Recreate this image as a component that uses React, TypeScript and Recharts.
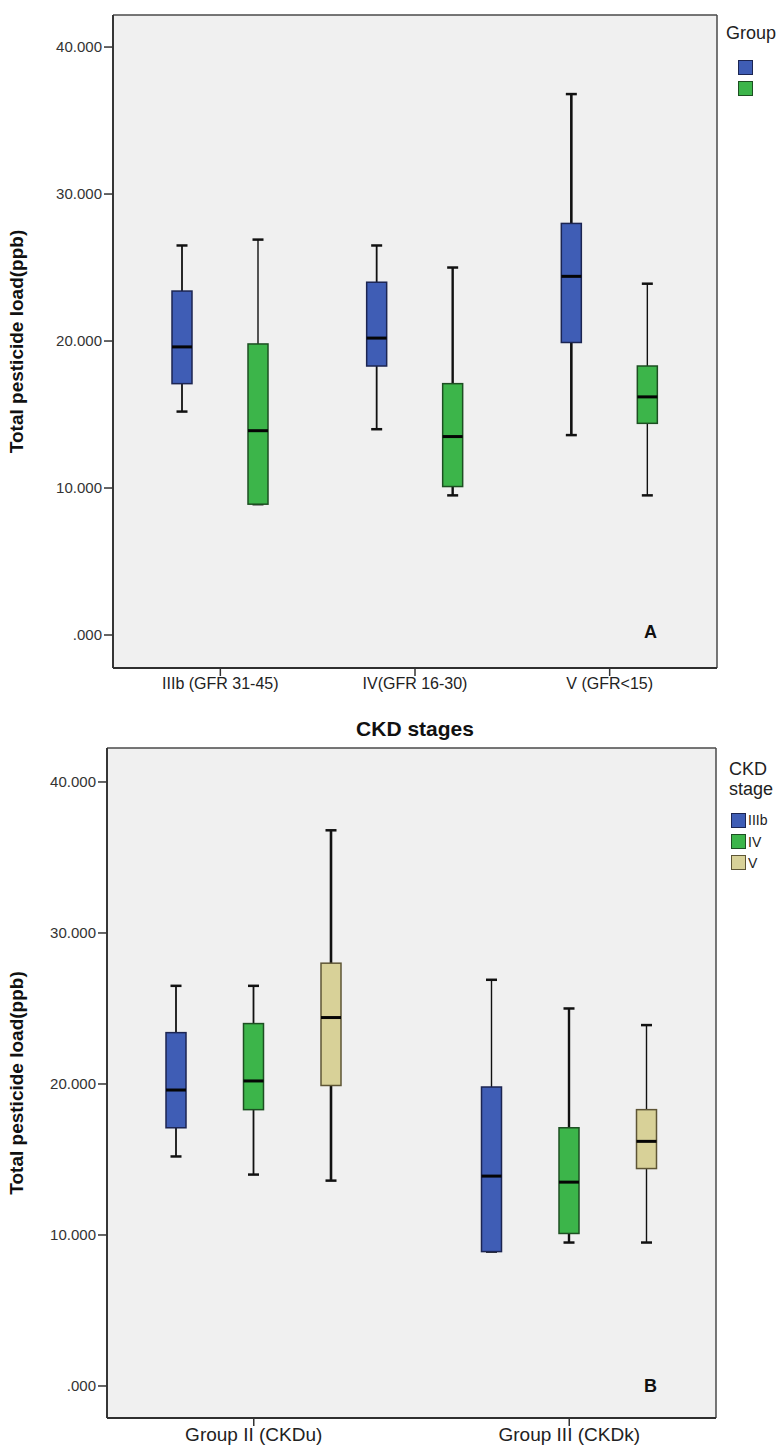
import { BarChart, Bar, XAxis, YAxis, CartesianGrid } from 'recharts'

const stages = ['IIIb (GFR 31-45)', 'IV(GFR 16-30)', 'V (GFR<15)']
const stageShort = ['IIIb', 'IV', 'V']
const groups = ['Group II (CKDu)', 'Group III (CKDk)']

// five-number summaries (ppb), one value per CKD stage
const ckduMin = [15.2, 14.0, 13.6]
const ckduQ1 = [17.1, 18.3, 19.9]
const ckduMedian = [19.6, 20.2, 24.4]
const ckduQ3 = [23.4, 24.0, 28.0]
const ckduMax = [26.5, 26.5, 36.8]

const ckdkMin = [8.9, 9.5, 9.5]
const ckdkQ1 = [8.9, 10.1, 14.4]
const ckdkMedian = [13.9, 13.5, 16.2]
const ckdkQ3 = [19.8, 17.1, 18.3]
const ckdkMax = [26.9, 25.0, 23.9]

const yTicks = [0, 10, 20, 30, 40]

const BLUE = { fill: '#3f5db5', edge: '#1c2552' }
const GREEN = { fill: '#3cb54a', edge: '#1d4f22' }
const TAN = { fill: '#d8d198', edge: '#5e5535' }
const stageColors = [BLUE, GREEN, TAN]
const groupColors = [BLUE, GREEN]
// SPSS drew some whiskers heavier than others
const ckduWhisker = [1.8, 1.8, 2.6]
const ckdkWhisker = [1.4, 2.4, 1.4]

type Box = { min: number; q1: number; med: number; q3: number; max: number }

const ckduBoxes: Box[] = stages.map((_, i) => ({
  min: ckduMin[i], q1: ckduQ1[i], med: ckduMedian[i], q3: ckduQ3[i], max: ckduMax[i],
}))
const ckdkBoxes: Box[] = stages.map((_, i) => ({
  min: ckdkMin[i], q1: ckdkQ1[i], med: ckdkMedian[i], q3: ckdkQ3[i], max: ckdkMax[i],
}))

const byStage = stages.map((name, i) => ({ name, g0: ckduBoxes[i], g1: ckdkBoxes[i] }))
const byGroup = groups.map((name, gi) => {
  const src = gi === 0 ? ckduBoxes : ckdkBoxes
  return { name, s0: src[0], s1: src[1], s2: src[2] }
})
const whiskerByGroup = [ckduWhisker, ckdkWhisker]

const FONT = '"Liberation Sans", Arial, sans-serif'
const fmt = (v: number) => (v === 0 ? '.000' : v.toFixed(3))
const FRAME_MAIN = { stroke: '#2f2f2f', strokeWidth: 1.8 }
const TICK_LINE = { stroke: '#333', strokeWidth: 1.5 }

// grid lines only on the plot edges, so the grid doubles as the frame
const edgeRows = ({ offset }: any) => [offset.top, offset.top + offset.height]
const edgeCols = ({ offset }: any) => [offset.left, offset.left + offset.width]

function BoxShape(props: any) {
  const { x, y, width, height, box, fill, edge, whisker } = props
  if (x == null || !box) return null
  const span = box.max - box.min
  // the bar spans [min, max], so other stats map linearly inside it
  const py = (v: number) => y + (span === 0 ? 0 : (height * (box.max - v)) / span)
  const cx = x + width / 2
  const cap = 5.5
  return (
    <g>
      <line x1={cx} x2={cx} y1={py(box.max)} y2={py(box.q3)} stroke="#111" strokeWidth={whisker} />
      <line x1={cx} x2={cx} y1={py(box.q1)} y2={py(box.min)} stroke="#111" strokeWidth={whisker} />
      <line x1={cx - cap} x2={cx + cap} y1={py(box.max)} y2={py(box.max)} stroke="#111" strokeWidth={2.5} />
      <line x1={cx - cap} x2={cx + cap} y1={py(box.min)} y2={py(box.min)} stroke="#111" strokeWidth={2.5} />
      <rect
        x={x}
        y={py(box.q3)}
        width={width}
        height={Math.max(py(box.q1) - py(box.q3), 0)}
        fill={fill}
        stroke={edge}
        strokeWidth={1.5}
      />
      <line x1={x} x2={x + width} y1={py(box.med)} y2={py(box.med)} stroke="#050505" strokeWidth={3} />
    </g>
  )
}

const swatch = (c: { fill: string; edge: string }) => (
  <span
    style={{
      display: 'inline-block',
      width: 13,
      height: 13,
      background: c.fill,
      border: `1.5px solid ${c.edge}`,
      verticalAlign: 'middle',
    }}
  />
)

const domainA: [number, number] = [-2.245, 42.18]
const domainB: [number, number] = [-2.12, 42.25]

const yLabel = (text: string) => ({
  value: text,
  angle: -90,
  position: 'insideLeft' as const,
  offset: 16,
  style: { textAnchor: 'middle', fontSize: 19, fontWeight: 'bold', fill: '#111', fontFamily: FONT },
})

export default function App() {
  return (
    <div style={{ position: 'absolute', left: 0, top: 0, width: 780, height: 1452, background: '#fff', fontFamily: FONT }}>
      <div style={{ position: 'absolute', left: 0, top: 0 }}>
        <BarChart width={780} height={745} data={byStage} margin={{ top: 15, right: 63, left: 0, bottom: 0 }} barSize={20} barGap={56}>
          <CartesianGrid
            fill="#f0f0f0"
            fillOpacity={1}
            stroke="#4a4a4a"
            strokeWidth={1.5}
            horizontalCoordinatesGenerator={edgeRows}
            verticalCoordinatesGenerator={edgeCols}
          />
          <XAxis
            dataKey="name"
            height={77}
            axisLine={FRAME_MAIN}
            tickSize={8}
            tickLine={TICK_LINE}
            padding={{ left: 10, right: 10 }}
            interval={0}
            tick={{ fontSize: 16, fill: '#222', fontFamily: FONT }}
            label={{ value: 'CKD stages', position: 'insideBottom', offset: 9, style: { fontSize: 21, fontWeight: 'bold', fill: '#111', fontFamily: FONT } }}
          />
          <YAxis
            type="number"
            domain={domainA}
            allowDataOverflow
            ticks={yTicks}
            tickFormatter={fmt}
            width={113}
            axisLine={FRAME_MAIN}
            tickSize={9}
            tickMargin={2}
            tickLine={TICK_LINE}
            tick={{ fontSize: 15, fill: '#333', fontFamily: FONT }}
            label={yLabel('Total pesticide load(ppb)')}
          />
          {[0, 1].map((gi) => (
            <Bar
              key={gi}
              dataKey={(d: any) => [d[`g${gi}`].min, d[`g${gi}`].max]}
              isAnimationActive={false}
              shape={(p: any) => (
                <BoxShape
                  {...p}
                  box={p.payload[`g${gi}`]}
                  fill={groupColors[gi].fill}
                  edge={groupColors[gi].edge}
                  whisker={whiskerByGroup[gi][p.index]}
                />
              )}
            />
          ))}
        </BarChart>
      </div>

      <div style={{ position: 'absolute', left: 726, top: 23, fontSize: 18, color: '#222' }}>Group</div>
      <div style={{ position: 'absolute', left: 738, top: 56, lineHeight: '21px' }}>
        <div>{swatch(BLUE)}</div>
        <div>{swatch(GREEN)}</div>
      </div>
      <div style={{ position: 'absolute', left: 644, top: 622, fontSize: 18, fontWeight: 'bold', color: '#111' }}>A</div>

      <div style={{ position: 'absolute', left: 0, top: 745 }}>
        <BarChart width={780} height={707} data={byGroup} margin={{ top: 3, right: 64, left: 0, bottom: 0 }} barSize={20} barGap={57.5}>
          <CartesianGrid
            fill="#f0f0f0"
            fillOpacity={1}
            stroke="#4a4a4a"
            strokeWidth={1.5}
            horizontalCoordinatesGenerator={edgeRows}
            verticalCoordinatesGenerator={edgeCols}
          />
          <XAxis
            dataKey="name"
            height={34}
            axisLine={FRAME_MAIN}
            tickSize={8}
            tickLine={TICK_LINE}
            padding={{ left: -11, right: -11 }}
            interval={0}
            tick={{ fontSize: 19, fill: '#222', fontFamily: FONT }}
          />
          <YAxis
            type="number"
            domain={domainB}
            allowDataOverflow
            ticks={yTicks}
            tickFormatter={fmt}
            width={107}
            axisLine={FRAME_MAIN}
            tickSize={9}
            tickMargin={2}
            tickLine={TICK_LINE}
            tick={{ fontSize: 15, fill: '#333', fontFamily: FONT }}
            label={yLabel('Total pesticide load(ppb)')}
          />
          {[0, 1, 2].map((si) => (
            <Bar
              key={si}
              dataKey={(d: any) => [d[`s${si}`].min, d[`s${si}`].max]}
              isAnimationActive={false}
              shape={(p: any) => (
                <BoxShape
                  {...p}
                  box={p.payload[`s${si}`]}
                  fill={stageColors[si].fill}
                  edge={stageColors[si].edge}
                  whisker={whiskerByGroup[p.index][si]}
                />
              )}
            />
          ))}
        </BarChart>
      </div>

      <div style={{ position: 'absolute', left: 729, top: 759, fontSize: 18, lineHeight: '20px', color: '#222' }}>
        CKD
        <br />
        stage
      </div>
      <div style={{ position: 'absolute', left: 731, top: 809, fontSize: 14, lineHeight: '20px', color: '#222' }}>
        {stageShort.map((s, i) => (
          <div key={s}>
            {swatch(stageColors[i])}
            <span style={{ marginLeft: 2, verticalAlign: 'middle' }}>{s}</span>
          </div>
        ))}
      </div>
      <div style={{ position: 'absolute', left: 644, top: 1376, fontSize: 18, fontWeight: 'bold', color: '#111' }}>B</div>
    </div>
  )
}
